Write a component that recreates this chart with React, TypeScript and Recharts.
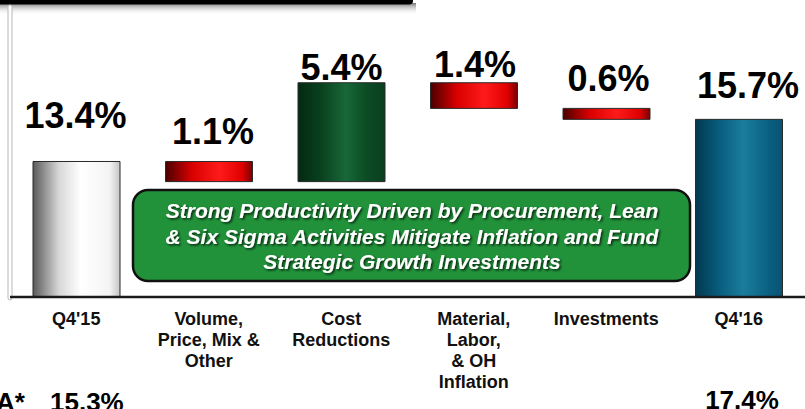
import { BarChart, Bar, XAxis, YAxis, Cell, LabelList, Customized } from 'recharts';

// bridge values (EBITDA margin, %)
const categories = [
  "Q4'15",
  'Volume,\nPrice, Mix &\nOther',
  'Cost\nReductions',
  'Material,\nLabor,\n& OH\nInflation',
  'Investments',
  "Q4'16",
];
const startMargin = 13.4;
const bridgeSteps = [-1.1, 5.4, -1.4, -0.6];
const endMargin = 15.7;
const ebitdaMargins = ['15.3%', '17.4%'];
const calloutLines = [
  'Strong Productivity Driven by Procurement, Lean',
  '& Six Sigma Activities Mitigate Inflation and Fund',
  'Strategic Growth Investments',
];

const AXIS_MIN = 6;
const AXIS_MAX = 22;
const FONT = '"Liberation Sans", Arial, sans-serif';

const round1 = (v: number) => Math.round(v * 10) / 10;

type Row = { name: string; range: [number, number]; amount: number; kind: string };

const rows: Row[] = [];
rows.push({ name: categories[0], range: [AXIS_MIN, startMargin], amount: startMargin, kind: 'start' });
let level = startMargin;
bridgeSteps.forEach((d, i) => {
  const next = round1(level + d);
  rows.push({
    name: categories[i + 1],
    range: [Math.min(level, next), Math.max(level, next)],
    amount: Math.abs(d),
    kind: d < 0 ? 'down' : 'up',
  });
  level = next;
});
rows.push({ name: categories[5], range: [AXIS_MIN, endMargin], amount: endMargin, kind: 'end' });

const fills: Record<string, string> = {
  start: 'url(#gSilver)',
  down: 'url(#gRed)',
  up: 'url(#gGreen)',
  end: 'url(#gTeal)',
};

// small nudges so the labels sit like the slide
const labelShift = [
  { dx: -1, lift: 33 },
  { dx: 4, lift: 17 },
  { dx: 0, lift: 3 },
  { dx: 1, lift: 6 },
  { dx: 2, lift: 17 },
  { dx: 9, lift: 21 },
];

const CategoryTick = (props: any) => {
  const { x, y, payload } = props;
  const lines = String(payload.value).split('\n');
  return (
    <text x={x} y={y} textAnchor="middle" fontSize={18} fontWeight="bold" fill="#111" fontFamily={FONT}>
      {lines.map((l, i) => (
        <tspan key={i} x={x} dy={i === 0 ? 20 : 21}>
          {l}
        </tspan>
      ))}
    </text>
  );
};

const ValueLabel = (props: any) => {
  const { x, y, width, index } = props;
  const s = labelShift[index] || { dx: 0, lift: 10 };
  return (
    <text
      x={x + width / 2 + s.dx}
      y={y - s.lift}
      textAnchor="middle"
      fontSize={36}
      fontWeight="bold"
      fill="#000"
      fontFamily={FONT}
    >
      {rows[index].amount.toFixed(1)}%
    </text>
  );
};

const Decor = () => (
  <g>
    <rect x={0} y={3} width={416} height={12} fill="url(#gShadow)" />
    <path d="M0 0 H413 V1 Q413 4.5 409 4.5 H0 Z" fill="#000" />
    <rect x={8} y={5} width={4} height={295} rx={2} fill="#fff" stroke="#b8b8b8" />
    <rect x={133} y={190} width={557} height={91} rx={15} fill="#21923a" stroke="#111" strokeWidth={2.5} />
    <text
      textAnchor="middle"
      fontSize={21}
      fontWeight="bold"
      fontStyle="italic"
      fill="#fff"
      fontFamily={FONT}
      filter="url(#txtShadow)"
    >
      {calloutLines.map((l, i) => (
        <tspan key={i} x={412} y={218 + i * 25.5}>
          {l}
        </tspan>
      ))}
    </text>
    <text x={25} y={411} textAnchor="end" fontSize={26} fontWeight="bold" fill="#000" fontFamily={FONT}>
      EBITDA*
    </text>
    <text x={50} y={411} fontSize={26} fontWeight="bold" fill="#000" fontFamily={FONT}>
      {ebitdaMargins[0]}
    </text>
    <text x={742} y={409} textAnchor="middle" fontSize={26} fontWeight="bold" fill="#000" fontFamily={FONT}>
      {ebitdaMargins[1]}
    </text>
  </g>
);

export default function App() {
  return (
    <div style={{ position: 'absolute', left: 0, top: 0, width: 805, height: 409, background: '#fff', overflow: 'hidden' }}>
      <BarChart width={805} height={409} data={rows} margin={{ top: 4, right: 0, bottom: 0, left: 10 }}>
        <defs>
          <linearGradient id="gSilver" x1="0" y1="0" x2="1" y2="0">
            <stop offset="0%" stopColor="#5a5a5a" />
            <stop offset="30%" stopColor="#d8d8d8" />
            <stop offset="55%" stopColor="#ffffff" />
            <stop offset="88%" stopColor="#f4f4f4" />
            <stop offset="100%" stopColor="#c4c4c4" />
          </linearGradient>
          <linearGradient id="gRed" x1="0" y1="0" x2="1" y2="0">
            <stop offset="0%" stopColor="#4a0000" />
            <stop offset="30%" stopColor="#d80000" />
            <stop offset="62%" stopColor="#ff1a1a" />
            <stop offset="88%" stopColor="#e00000" />
            <stop offset="100%" stopColor="#7a0000" />
          </linearGradient>
          <linearGradient id="gGreen" x1="0" y1="0" x2="1" y2="0">
            <stop offset="0%" stopColor="#042a12" />
            <stop offset="25%" stopColor="#083f1d" />
            <stop offset="55%" stopColor="#186838" />
            <stop offset="80%" stopColor="#0b4a24" />
            <stop offset="100%" stopColor="#0a3f1e" />
          </linearGradient>
          <linearGradient id="gTeal" x1="0" y1="0" x2="1" y2="0">
            <stop offset="0%" stopColor="#03384f" />
            <stop offset="25%" stopColor="#075a7a" />
            <stop offset="55%" stopColor="#1b7d9d" />
            <stop offset="85%" stopColor="#0a5f80" />
            <stop offset="100%" stopColor="#0b5272" />
          </linearGradient>
          <linearGradient id="gShadow" x1="0" y1="0" x2="0" y2="1">
            <stop offset="0%" stopColor="#777" />
            <stop offset="100%" stopColor="#fff" stopOpacity={0} />
          </linearGradient>
          <filter id="txtShadow" x="-5%" y="-30%" width="110%" height="160%">
            <feDropShadow dx="1.5" dy="1.5" stdDeviation="0.8" floodColor="#000" floodOpacity="0.75" />
          </filter>
        </defs>
        <Customized component={Decor} />
        <XAxis
          dataKey="name"
          height={112}
          interval={0}
          tickLine={false}
          axisLine={{ stroke: '#1a1a1a', strokeWidth: 2.5 }}
          tick={<CategoryTick />}
        />
        <YAxis hide type="number" domain={[AXIS_MIN, AXIS_MAX]} allowDataOverflow width={0} />
        <Bar dataKey="range" barSize={87} isAnimationActive={false}>
          {rows.map((r, i) => (
            <Cell key={i} fill={fills[r.kind]} stroke="#2a2a2a" strokeWidth={1} />
          ))}
          <LabelList dataKey="amount" content={<ValueLabel />} />
        </Bar>
      </BarChart>
    </div>
  );
}
